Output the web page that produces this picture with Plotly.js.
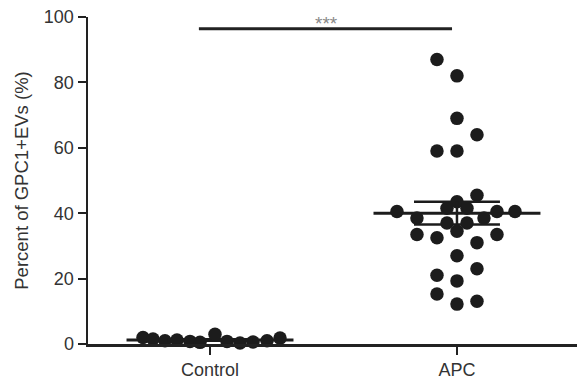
<!DOCTYPE html>
<html>
<head>
<meta charset="utf-8">
<script src="https://cdn.plot.ly/plotly-3.0.1.min.js"></script>
<style>html,body{margin:0;padding:0;background:#fff;}#chart{width:577px;height:383px;}</style>
</head>
<body>
<div id="chart"></div>
<script>
// Categories and tick labels
var categories = ["Control", "APC"];
var yTickVals = [0, 20, 40, 60, 80, 100];

// Control group values (%) and swarm column offsets
var controlValues = [2.0, 1.5, 1.0, 1.2, 0.8, 0.5, 3.0, 0.8, 0.3, 0.6, 1.0, 1.8];
var controlCols   = [-3.35, -2.85, -2.25, -1.65, -1.0, -0.5, 0.25, 0.85, 1.5, 2.15, 2.85, 3.5];

// APC group values (%) and swarm column offsets
var apcValues = [87, 82, 69, 64, 59, 59, 45.5, 43.5, 41.5, 41.5, 40.5, 40.5, 40.5,
                 38.5, 38.5, 37, 37, 33.5, 32.5, 34.5, 33.5, 31, 27, 23, 21, 19.3, 15.3, 12.2, 13.1];
var apcCols   = [-1, 0, 0, 1, -1, 0, 1, 0, -0.5, 0.5, -3, 2, 2.9,
                 -2, 1.35, -0.5, 0.5, -2, -1, 0, 2, 1, 0, 1, -1, 0, -1, 0, 1];

var significance = "***";

var colW = 0.081; // swarm column width in category units
function xs(center, cols){ return cols.map(function(c){ return center + c*colW; }); }
function mean(a){ return a.reduce(function(s,v){return s+v;},0)/a.length; }
function sem(a){ var m=mean(a); var v=a.reduce(function(s,x){return s+(x-m)*(x-m);},0)/(a.length-1); return Math.sqrt(v/a.length); }

var dotColor = "#1c1c1c";
var traces = [];
var groups = [{c:0, v:controlValues, cols:controlCols}, {c:1, v:apcValues, cols:apcCols}];
groups.forEach(function(g){
  traces.push({
    type:"scatter", mode:"markers", x: xs(g.c, g.cols), y: g.v,
    marker:{size:13.5, color:dotColor}, cliponaxis:false, hoverinfo:"y", showlegend:false
  });
});
// mean and SEM lines
groups.forEach(function(g){
  var m = mean(g.v), s = sem(g.v);
  var hw = 0.338, cw = 0.174;
  traces.push({type:"scatter", mode:"lines", x:[g.c-hw, g.c+hw], y:[m,m],
    line:{color:dotColor, width:3}, cliponaxis:false, hoverinfo:"skip", showlegend:false});
  traces.push({type:"scatter", mode:"lines",
    x:[g.c-cw, g.c+cw, null, g.c-cw, g.c+cw, null, g.c, g.c],
    y:[m+s, m+s, null, m-s, m-s, null, m-s, m+s],
    line:{color:dotColor, width:2.5}, cliponaxis:false, hoverinfo:"skip", showlegend:false});
});
// significance bar
traces.push({type:"scatter", mode:"lines", x:[-0.045, 0.98], y:[96.4, 96.4],
  line:{color:"#222", width:3}, cliponaxis:false, hoverinfo:"skip", showlegend:false});

var layout = {
  width:577, height:383,
  margin:{l:88, r:0, t:17, b:39},
  paper_bgcolor:"#fff", plot_bgcolor:"#fff",
  font:{family:"Liberation Sans, Arial, sans-serif", size:18, color:"#333"},
  xaxis:{
    range:[-0.494, 1.486], tickvals:[0,1], ticktext:categories,
    showgrid:false, zeroline:false, showline:true, linecolor:"#222", linewidth:2.5,
    ticks:"outside", ticklen:8, tickwidth:2, tickcolor:"#222",
    tickfont:{size:18, color:"#333"}, fixedrange:true
  },
  yaxis:{
    range:[0, 100], tickvals:yTickVals,
    showgrid:false, zeroline:false, showline:true, linecolor:"#222", linewidth:2.5,
    ticks:"outside", ticklen:8, tickwidth:2, tickcolor:"#222",
    tickfont:{size:18, color:"#333"},
    title:{text:"Percent of GPC1+EVs (%)", font:{size:18.5, color:"#333"}, standoff:11},
    fixedrange:true
  },
  annotations:[{x:0.47, y:98.0, xref:"x", yref:"y", text:significance, showarrow:false,
    font:{size:19, color:"#888"}, yanchor:"middle"}]
};
Plotly.newPlot("chart", traces, layout, {displayModeBar:false, staticPlot:true});
</script>
</body>
</html>
